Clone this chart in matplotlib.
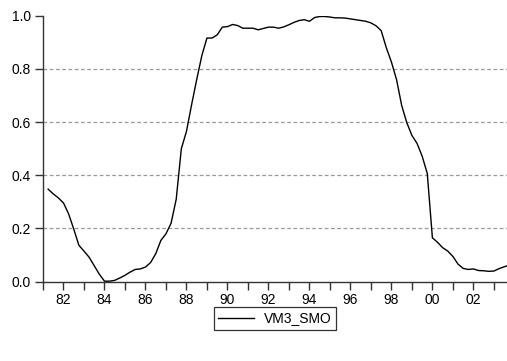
import matplotlib
matplotlib.use("Agg")
import matplotlib.pyplot as plt
from matplotlib.ticker import MultipleLocator, FixedLocator
import numpy as np

plt.rcParams['font.family'] = ['Liberation Sans', 'DejaVu Sans']

# quarterly observations, 1981Q2 onwards
start_year = 1981.25
vm3_smo = [
    0.348, 0.330, 0.315, 0.296, 0.255, 0.198, 0.137, 0.115, 0.092, 0.060,
    0.028, 0.002, 0.002, 0.005, 0.014, 0.024, 0.036, 0.046, 0.048, 0.055,
    0.072, 0.105, 0.155, 0.180, 0.220, 0.310, 0.500, 0.565, 0.665, 0.760,
    0.850, 0.916, 0.916, 0.928, 0.957, 0.959, 0.967, 0.963, 0.953, 0.953,
    0.953, 0.947, 0.952, 0.957, 0.957, 0.953, 0.958, 0.966, 0.975, 0.982,
    0.985, 0.979, 0.993, 0.997, 0.997, 0.995, 0.992, 0.992, 0.991, 0.988,
    0.985, 0.982, 0.979, 0.973, 0.962, 0.944, 0.880, 0.826, 0.760, 0.663,
    0.598, 0.550, 0.520, 0.472, 0.407, 0.165, 0.148, 0.128, 0.115, 0.095,
    0.066, 0.050, 0.046, 0.048, 0.042, 0.041, 0.039, 0.040, 0.049, 0.056,
    0.062,
]
years = start_year + 0.25 * np.arange(len(vm3_smo))

major_years = list(range(1982, 2004, 2))
tick_labels = ["%02d" % (y % 100) for y in major_years]
y_ticks = [0.0, 0.2, 0.4, 0.6, 0.8, 1.0]

fig = plt.figure(figsize=(5.07, 3.61), dpi=100)
ax = fig.add_axes([0.0848, 0.2197, 0.9152, 0.7368])

for g in [0.2, 0.4, 0.6, 0.8]:
    ax.axhline(g, color="#9a9a9a", lw=0.9, ls=(0, (3, 2)), zorder=1)

ax.plot(years, vm3_smo, color="black", lw=1.0, label="VM3_SMO", zorder=3)

ax.set_xlim(1981.0, 2003.64)
ax.set_ylim(0.0, 1.0)

ax.xaxis.set_major_locator(FixedLocator(major_years))
ax.xaxis.set_minor_locator(MultipleLocator(1))
ax.set_xticklabels(tick_labels)
ax.set_yticks(y_ticks)
ax.set_yticklabels(["%.1f" % v for v in y_ticks])

ax.tick_params(axis="both", which="both", direction="out", length=6,
               width=1.0, color="#333333", labelsize=10, pad=2.5)

for s in ["top", "right"]:
    ax.spines[s].set_visible(False)
for s in ["left", "bottom"]:
    ax.spines[s].set_color("#333333")
    ax.spines[s].set_linewidth(1.0)

leg = fig.legend(loc="center", bbox_to_anchor=(0.542, 0.118), fontsize=10,
                 frameon=True, fancybox=False, edgecolor="black",
                 handlelength=2.6, handletextpad=0.7, borderpad=0.3,
                 borderaxespad=0)
leg.get_frame().set_linewidth(0.9)

fig.savefig("out.png", dpi=100)
